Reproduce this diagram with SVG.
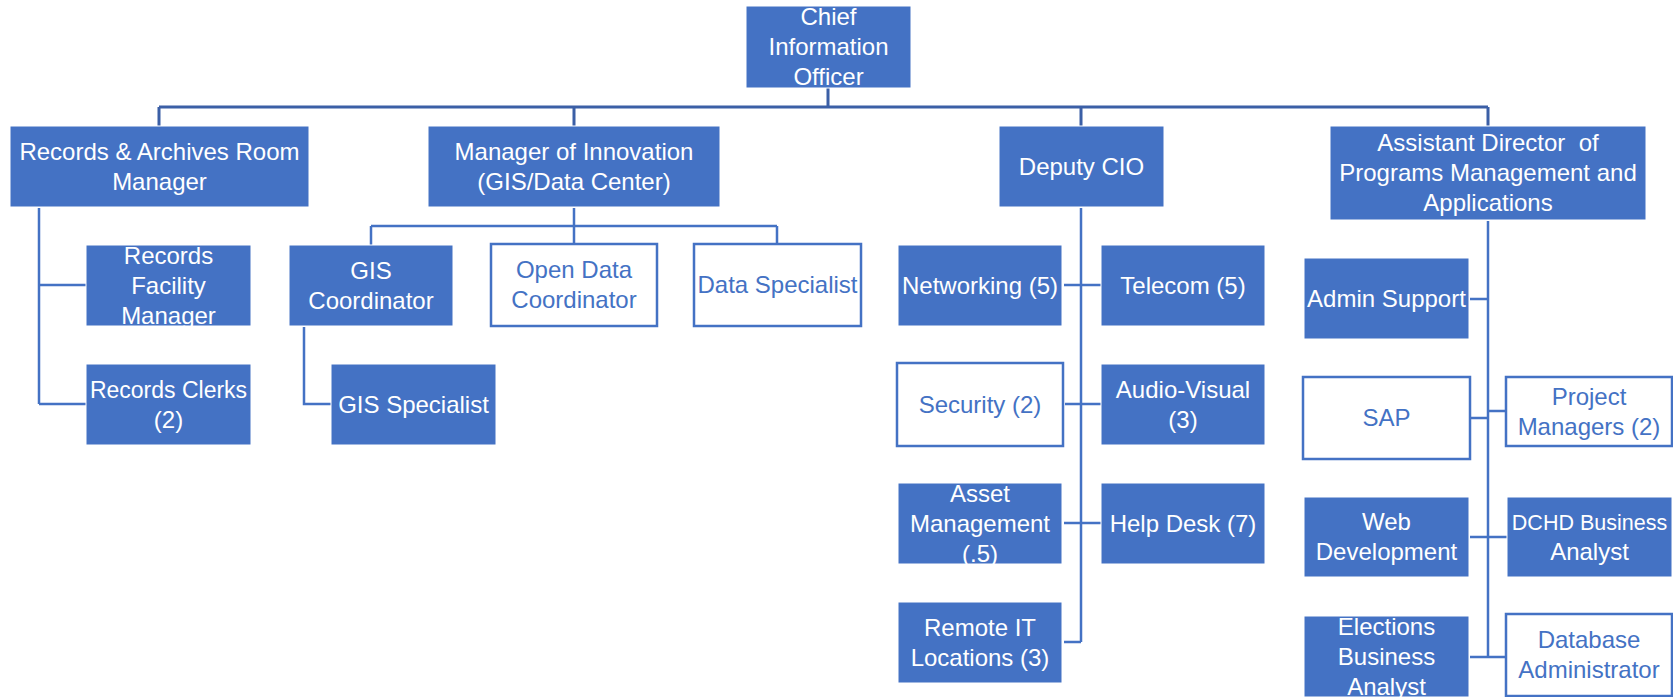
<svg xmlns="http://www.w3.org/2000/svg" width="1673" height="697" viewBox="0 0 1673 697">
<style>
.f{fill:#4472C4;stroke:#ffffff;stroke-width:1}
.w{fill:#ffffff;stroke:#4472C4;stroke-width:2.5}
text{font-family:"Liberation Sans",Arial,sans-serif;font-size:24px;text-anchor:middle}
.tf{fill:#ffffff}
.tw{fill:#4472C4}
.c1{fill:none;stroke:#3B5FA6;stroke-width:3}
.c2{fill:none;stroke:#4472C4;stroke-width:2.5}
</style>
<rect width="1673" height="697" fill="#ffffff"/>
<g id="connectors">
<path class="c1" d="M828 88V107M159 107H1488M159 107V126M574 107V126M1081 107V126M1488 107V126"/>
<path class="c2" d="M39 208V404M39 285H86M39 404H86"/>
<path class="c2" d="M574 208V226M371 226H777M371 226V245M574 226V243M777 226V243"/>
<path class="c2" d="M304 327V404H331"/>
<path class="c2" d="M1081 208V642M1064 285H1101M1065 404H1101M1064 523H1101M1064 642H1081"/>
<path class="c2" d="M1488 221V657M1470 299H1488M1471 418H1488M1488 411H1506M1470 537H1507M1470 657H1506"/>
</g>
<g id="cio"><rect class="f" x="746" y="6" width="165" height="82"/><text class="tf"><tspan x="828.5" y="25">Chief</tspan><tspan x="828.5" y="55">Information</tspan><tspan x="828.5" y="85">Officer</tspan></text></g>
<g id="records-mgr"><rect class="f" x="10" y="126" width="299" height="81"/><text class="tf"><tspan x="159.5" y="159.5">Records &amp; Archives Room</tspan><tspan x="159.5" y="189.5">Manager</tspan></text></g>
<g id="innovation-mgr"><rect class="f" x="428" y="126" width="292" height="81"/><text class="tf"><tspan x="574" y="159.5">Manager of Innovation</tspan><tspan x="574" y="189.5">(GIS/Data Center)</tspan></text></g>
<g id="deputy-cio"><rect class="f" x="999" y="126" width="165" height="81"/><text class="tf" x="1081.5" y="174.5">Deputy CIO</text></g>
<g id="asst-director"><rect class="f" x="1330" y="126" width="316" height="94"/><text class="tf" xml:space="preserve"><tspan x="1488" y="151">Assistant Director  of</tspan><tspan x="1488" y="181">Programs Management and</tspan><tspan x="1488" y="211">Applications</tspan></text></g>
<g id="records-facility"><rect class="f" x="86" y="245" width="165" height="81"/><text class="tf"><tspan x="168.5" y="263.5">Records</tspan><tspan x="168.5" y="293.5">Facility</tspan><tspan x="168.5" y="323.5">Manager</tspan></text></g>
<g id="records-clerks"><rect class="f" x="86" y="364" width="165" height="81"/><text class="tf"><tspan x="168.5" y="397.5" style="font-size:23px">Records Clerks</tspan><tspan x="168.5" y="427.5">(2)</tspan></text></g>
<g id="gis-coordinator"><rect class="f" x="289" y="245" width="164" height="81"/><text class="tf"><tspan x="371" y="278.5">GIS</tspan><tspan x="371" y="308.5">Coordinator</tspan></text></g>
<g id="gis-specialist"><rect class="f" x="331" y="364" width="165" height="81"/><text class="tf" x="413.5" y="412.5">GIS Specialist</text></g>
<g id="open-data"><rect class="w" x="491" y="244" width="166" height="82"/><text class="tw"><tspan x="574" y="278">Open Data</tspan><tspan x="574" y="308">Coordinator</tspan></text></g>
<g id="data-specialist"><rect class="w" x="694" y="244" width="167" height="82"/><text class="tw" x="777.5" y="293">Data Specialist</text></g>
<g id="networking"><rect class="f" x="898" y="245" width="164" height="81"/><text class="tf" x="980" y="293.5">Networking (5)</text></g>
<g id="telecom"><rect class="f" x="1101" y="245" width="164" height="81"/><text class="tf" x="1183" y="293.5">Telecom (5)</text></g>
<g id="security"><rect class="w" x="897" y="363" width="166" height="83"/><text class="tw" x="980" y="412.5">Security (2)</text></g>
<g id="audio-visual"><rect class="f" x="1101" y="364" width="164" height="81"/><text class="tf"><tspan x="1183" y="397.5">Audio-Visual</tspan><tspan x="1183" y="427.5">(3)</tspan></text></g>
<g id="asset-mgmt"><rect class="f" x="898" y="483" width="164" height="81"/><text class="tf"><tspan x="980" y="501.5">Asset</tspan><tspan x="980" y="531.5">Management</tspan><tspan x="980" y="561.5">(.5)</tspan></text></g>
<g id="help-desk"><rect class="f" x="1101" y="483" width="164" height="81"/><text class="tf" x="1183" y="531.5">Help Desk (7)</text></g>
<g id="remote-it"><rect class="f" x="898" y="602" width="164" height="81"/><text class="tf"><tspan x="980" y="635.5">Remote IT</tspan><tspan x="980" y="665.5">Locations (3)</tspan></text></g>
<g id="admin-support"><rect class="f" x="1304" y="258" width="165" height="81"/><text class="tf" x="1386.5" y="306.5">Admin Support</text></g>
<g id="sap"><rect class="w" x="1303" y="377" width="167" height="82"/><text class="tw" x="1386.5" y="426">SAP</text></g>
<g id="project-managers"><rect class="w" x="1506" y="377" width="166" height="69"/><text class="tw"><tspan x="1589" y="404.5">Project</tspan><tspan x="1589" y="434.5">Managers (2)</tspan></text></g>
<g id="web-dev"><rect class="f" x="1304" y="497" width="165" height="80"/><text class="tf"><tspan x="1386.5" y="530">Web</tspan><tspan x="1386.5" y="560">Development</tspan></text></g>
<g id="dchd-analyst"><rect class="f" x="1507" y="497" width="165" height="80"/><text class="tf"><tspan x="1589.5" y="530" style="font-size:21.5px">DCHD Business</tspan><tspan x="1589.5" y="560">Analyst</tspan></text></g>
<g id="elections-analyst"><rect class="f" x="1304" y="616" width="165" height="81"/><text class="tf"><tspan x="1386.5" y="634.5">Elections</tspan><tspan x="1386.5" y="664.5">Business</tspan><tspan x="1386.5" y="694.5">Analyst</tspan></text></g>
<g id="db-admin"><rect class="w" x="1506" y="614" width="166" height="82"/><text class="tw"><tspan x="1589" y="648">Database</tspan><tspan x="1589" y="678">Administrator</tspan></text></g>
</svg>
